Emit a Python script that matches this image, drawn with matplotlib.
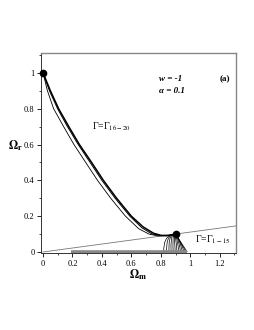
import matplotlib.pyplot as plt
from matplotlib.path import Path
from matplotlib.patches import PathPatch
from matplotlib.ticker import MultipleLocator

plt.rcParams['font.family'] = ['Liberation Serif', 'DejaVu Serif']
plt.rcParams['mathtext.fontset'] = 'stix'

# trajectorias Gamma 16-20 (de (0,1) ate (0.9,0.1))
curva_a_x = [0, 0.05, 0.106, 0.175, 0.247, 0.33, 0.41, 0.5, 0.6, 0.68, 0.75, 0.8, 0.85, 0.9]
curva_a_y = [1, 0.9, 0.8, 0.7, 0.6, 0.5, 0.4, 0.3, 0.2, 0.14, 0.105, 0.093, 0.092, 0.1]
curva_b_x = [0, 0.044, 0.099, 0.166, 0.239, 0.32, 0.4, 0.49, 0.59, 0.672, 0.742, 0.8, 0.86, 0.9]
curva_b_y = [1, 0.9, 0.8, 0.7, 0.6, 0.5, 0.4, 0.3, 0.2, 0.135, 0.1, 0.092, 0.093, 0.1]
curva_c_x = [0, 0.03, 0.072, 0.14, 0.21, 0.29, 0.37, 0.46, 0.56, 0.65, 0.72, 0.78, 0.84, 0.9]
curva_c_y = [1, 0.9, 0.8, 0.7, 0.6, 0.5, 0.4, 0.3, 0.2, 0.13, 0.1, 0.09, 0.09, 0.1]

# trajectorias Gamma 1-15 (leque perto do ponto (0.9, 0.1))
leque_x0 = [0.82, 0.84, 0.856, 0.87, 0.884, 0.898, 0.91, 0.922, 0.934, 0.946, 0.958, 0.97, 0.98]
leque_cx = [0.818, 0.836, 0.851, 0.865, 0.879, 0.892, 0.904, 0.914, 0.924, 0.932, 0.94, 0.946, 0.94]
leque_cy = [0.085, 0.085, 0.085, 0.085, 0.085, 0.085, 0.08, 0.075, 0.07, 0.065, 0.055, 0.045, 0.05]
leque_xf = [0.87, 0.875, 0.88, 0.884, 0.888, 0.891, 0.894, 0.896, 0.898, 0.899, 0.9, 0.9, 0.9]
leque_yf = [0.092, 0.094, 0.095, 0.096, 0.097, 0.098, 0.099, 0.1, 0.1, 0.1, 0.1, 0.1, 0.1]

# reta pela origem e faixa cinza no eixo
reta_x = [0, 1.31]
reta_y = [0, 0.1456]
faixa_x = [0.19, 0.98]
faixa_y = [0, 0]

pontos_x = [0, 0.9]
pontos_y = [1, 0.1]

xticks = [0, 0.2, 0.4, 0.6, 0.8, 1, 1.2]
xtick_labels = ['0', '0.2', '0.4', '0.6', '0.8', '1', '1.2']
yticks = [0, 0.2, 0.4, 0.6, 0.8, 1]
ytick_labels = ['0', '0.2', '0.4', '0.6', '0.8', '1']

fig = plt.figure(figsize=(2.55, 3.3), dpi=100)
ax = fig.add_axes([0.16, 0.232, 0.765, 0.607])

ax.plot(reta_x, reta_y, color='#777777', lw=0.6)
ax.plot(faixa_x, faixa_y, color='#888888', lw=2.6, solid_capstyle='butt')

ax.plot(curva_c_x, curva_c_y, color='black', lw=0.6)
ax.plot(curva_b_x, curva_b_y, color='black', lw=0.7)
ax.plot(curva_a_x, curva_a_y, color='black', lw=1.1)

for x0, cx, cy, xf, yf in zip(leque_x0, leque_cx, leque_cy, leque_xf, leque_yf):
    caminho = Path([(x0, 0), (cx, cy), (xf, yf)], [Path.MOVETO, Path.CURVE3, Path.CURVE3])
    ax.add_patch(PathPatch(caminho, facecolor='none', edgecolor='black', lw=0.5))

ax.plot(pontos_x, pontos_y, 'o', color='black', ms=4.5, zorder=5, clip_on=False)

ax.set_xlim(-0.015, 1.31)
ax.set_ylim(-0.008, 1.11)
ax.set_xticks(xticks)
ax.set_xticklabels(xtick_labels)
ax.set_yticks(yticks)
ax.set_yticklabels(ytick_labels)
ax.xaxis.set_minor_locator(MultipleLocator(0.1))
ax.yaxis.set_minor_locator(MultipleLocator(0.1))
ax.tick_params(labelsize=6, length=3, width=0.6, direction='out', pad=1.5)
ax.tick_params(which='minor', length=1.5, width=0.5)

for lado in ['top', 'right']:
    ax.spines[lado].set_color('#888888')
    ax.spines[lado].set_linewidth(1.0)
for lado in ['left', 'bottom']:
    ax.spines[lado].set_color('#333333')
    ax.spines[lado].set_linewidth(0.7)

ax.set_xlabel(r'$\mathbf{\Omega_m}$', fontsize=8.5, labelpad=0)
ax.set_ylabel(r'$\mathbf{\Omega_r}$', fontsize=8.5, rotation=0, labelpad=6)

ax.text(0.79, 0.955, 'w = -1', fontsize=6.5, fontweight='bold', style='italic')
ax.text(0.79, 0.885, 'α = 0.1', fontsize=6.5, fontweight='bold', style='italic')
ax.text(1.2, 0.955, '(a)', fontsize=6.5, fontweight='bold')
ax.text(0.33, 0.685, r'Γ=Γ$_{\mathrm{16-20}}$', fontsize=7)
ax.text(1.03, 0.055, r'Γ=Γ$_{\mathrm{1-15}}$', fontsize=7)

fig.savefig('out.png', dpi=100)
